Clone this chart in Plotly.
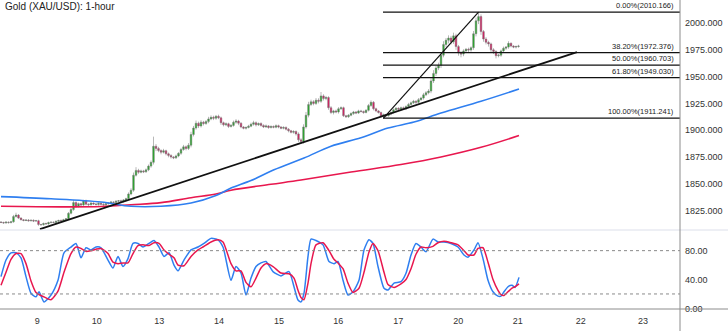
import plotly.graph_objects as go

# ---------------- data ----------------
title_text = "Gold (XAU/USD): 1-hour"
day_labels = ["9", "10", "13", "14", "15", "16", "17", "20", "21", "22", "23"]
day_ticks = [14.5, 38.3, 63.3, 87.2, 111.2, 134.9, 158.9, 182.9, 206.7, 231.9, 256.8]

first_open = 1814.3
closes = [
    1814.0, 1813.5, 1814.2, 1813.8, 1814.5,
    1819.5, 1820.8, 1818.0,
    1816.5, 1815.8, 1816.2, 1815.5, 1816.0, 1815.2, 1815.6,
    1812.0, 1811.8,
    1813.0, 1812.6, 1813.8, 1814.2, 1813.9, 1815.0, 1815.8, 1815.2, 1816.5, 1817.4,
    1822.5, 1826.0,
    1832.5, 1829.0, 1831.5, 1830.2, 1834.0, 1831.0,
    1830.5, 1832.0, 1831.2, 1830.6, 1831.8, 1831.0, 1830.4, 1831.5, 1832.2,
    1833.0, 1832.6, 1833.8, 1834.2, 1833.6, 1835.0, 1836.0,
    1840.5, 1844.0,
    1858.0, 1862.5,
    1860.8, 1862.0, 1861.2, 1863.0,
    1866.5, 1870.0,
    1885.0, 1883.0,
    1881.0, 1879.5, 1880.8, 1878.0,
    1876.5, 1875.0, 1874.2, 1876.0, 1878.5,
    1882.0, 1884.5, 1883.0, 1886.0,
    1896.0, 1902.0, 1906.5,
    1904.0, 1907.5, 1906.2, 1908.0,
    1910.5, 1912.0, 1911.2, 1913.0, 1911.5,
    1907.0, 1905.0, 1906.0, 1903.5, 1904.5,
    1907.5, 1908.5, 1906.5,
    1903.0, 1901.8, 1902.5, 1903.8,
    1905.5, 1907.0, 1905.0, 1906.2, 1904.5,
    1903.0, 1904.0, 1902.5, 1903.5, 1902.8, 1904.2, 1903.0, 1901.8, 1902.6, 1901.0,
    1899.5, 1898.0, 1898.8, 1896.5,
    1891.0, 1889.5,
    1903.0, 1914.0,
    1924.0, 1926.5, 1925.0, 1928.0, 1927.0,
    1932.0, 1929.5, 1930.5,
    1921.0, 1916.5, 1918.0, 1917.0,
    1920.0, 1921.0,
    1913.5, 1912.5, 1914.0,
    1915.5, 1917.0, 1916.0, 1918.0, 1917.5, 1916.5, 1918.5,
    1923.0, 1926.0,
    1920.0, 1918.0, 1916.5,
    1913.0, 1914.5, 1913.5, 1915.0, 1916.5,
    1919.0, 1920.5, 1919.5, 1921.0, 1920.0, 1922.0,
    1924.0, 1925.5, 1927.0, 1926.0, 1928.5, 1930.0,
    1933.0, 1935.0, 1936.5,
    1946.0, 1953.0,
    1958.0, 1960.5,
    1970.0,
    1980.0, 1984.0,
    1986.0, 1982.5, 1988.0,
    1978.0, 1972.0, 1971.0,
    1974.0, 1975.5, 1974.8, 1977.0,
    1990.0,
    2002.0, 2006.0,
    1992.0,
    1985.0, 1982.0, 1980.5,
    1975.0, 1973.5,
    1969.5, 1970.0,
    1974.0, 1976.5, 1977.5,
    1981.0,
    1978.5, 1977.5, 1978.0, 1978.5,
]

up_wick = [
    0.8, 0.6, 1.0, 0.7, 0.9, 1.5, 2.2, 1.0, 0.8, 0.6,
    0.7, 0.9, 0.6, 0.8, 0.7, 0.9, 0.6, 0.8, 0.7, 0.9,
    0.6, 0.8, 1.0, 0.7, 0.9, 0.8, 0.6, 1.2, 1.5, 2.5,
    1.2, 1.0, 0.8, 1.0, 1.2, 0.8, 1.0, 0.7, 0.9, 0.8,
    0.7, 0.9, 0.8, 0.7, 1.0, 0.8, 0.9, 0.7, 1.0, 0.8,
    1.0, 1.5, 1.8, 2.5, 3.0, 1.5, 1.2, 1.0, 1.3, 1.5,
    1.8, 9.0, 2.0, 1.5, 1.2, 1.8, 1.0, 1.2, 1.0, 0.8,
    1.2, 1.0, 1.5, 1.8, 1.2, 2.0, 2.5, 2.0, 2.5, 1.5,
    1.8, 1.2, 1.5, 2.0, 1.8, 1.5, 1.2, 1.5, 1.2, 1.0,
    1.3, 1.0, 1.2, 1.5, 1.8, 1.2, 1.0, 0.8, 1.0, 1.2,
    1.5, 1.8, 1.2, 1.0, 1.2, 1.0, 1.3, 0.8, 1.0, 0.9,
    1.2, 1.0, 0.8, 1.0, 0.9, 1.0, 0.8, 1.2, 1.0, 1.5,
    1.5, 2.5, 3.0, 2.5, 2.0, 1.5, 2.0, 1.8, 3.6, 1.5,
    1.5, 1.2, 1.5, 1.0, 1.2, 1.5, 1.2, 1.0, 0.8, 1.0,
    1.2, 1.0, 0.9, 1.1, 1.0, 0.8, 1.2, 1.5, 1.8, 1.2,
    1.0, 0.8, 0.9, 1.0, 0.8, 1.0, 1.0, 1.2, 1.0, 0.9,
    1.0, 1.1, 1.2, 1.5, 1.2, 1.3, 1.0, 1.5, 1.2, 1.8,
    1.5, 1.8, 2.5, 3.0, 2.0, 2.5, 2.5, 3.0, 2.0, 2.5,
    2.0, 3.0, 2.0, 1.5, 1.8, 1.5, 1.2, 1.5, 1.2, 2.5,
    3.0, 4.166, 2.0, 1.5, 1.8, 1.5, 1.2, 1.5, 1.0, 1.2,
    1.2, 1.5, 1.0, 2.0, 1.0, 0.8, 1.0, 1.2,
]

dn_wick = [
    0.7, 0.8, 0.6, 0.9, 0.7, 0.8, 1.0, 0.9, 0.7, 0.8,
    0.6, 0.8, 0.7, 0.9, 0.6, 1.2, 0.8, 0.7, 0.6, 0.8,
    0.7, 0.6, 0.8, 0.7, 0.9, 0.6, 0.8, 0.7, 1.0, 1.2,
    1.5, 1.0, 1.2, 0.8, 1.0, 1.2, 0.8, 1.0, 0.7, 0.9,
    0.8, 1.0, 0.7, 0.9, 0.8, 1.0, 0.7, 0.9, 0.8, 1.0,
    0.8, 1.0, 1.2, 1.5, 1.2, 1.5, 1.0, 1.2, 1.0, 1.2,
    1.5, 2.0, 2.5, 1.5, 2.0, 1.2, 1.5, 1.8, 1.5, 1.2,
    1.0, 1.2, 1.5, 1.2, 1.8, 1.5, 2.0, 1.8, 1.5, 2.0,
    1.5, 1.8, 1.2, 1.5, 1.2, 1.8, 1.5, 1.2, 2.0, 1.5,
    1.2, 1.5, 1.0, 1.2, 1.5, 1.8, 1.2, 1.0, 1.2, 0.8,
    1.0, 1.2, 1.5, 1.0, 1.2, 1.0, 0.8, 1.2, 0.9, 1.0,
    1.0, 1.2, 0.9, 1.0, 1.2, 1.5, 1.0, 1.2, 1.5, 2.0,
    2.0, 2.0, 1.5, 2.0, 1.5, 1.8, 1.5, 2.0, 1.5, 1.8,
    1.5, 2.0, 1.5, 1.8, 1.2, 1.5, 1.0, 1.2, 0.8, 1.0,
    1.0, 1.2, 1.0, 0.8, 1.0, 1.2, 0.8, 1.0, 1.2, 1.5,
    1.2, 1.0, 1.0, 1.759, 1.0, 0.8, 1.0, 0.9, 1.0, 1.2,
    0.8, 1.0, 1.2, 1.0, 1.2, 1.0, 1.5, 1.2, 1.0, 1.5,
    1.2, 1.5, 2.0, 2.0, 2.5, 2.0, 2.5, 2.0, 2.5, 3.0,
    2.5, 2.0, 3.0, 2.5, 3.0, 2.0, 1.5, 2.0, 1.5, 2.0,
    2.5, 3.0, 3.0, 2.5, 2.0, 2.5, 2.0, 2.5, 2.5, 1.5,
    1.5, 1.2, 1.5, 1.5, 1.2, 1.0, 1.2, 1.0,
]

# moving averages (sampled at bar positions)
ma_fast_bar = [0, 20, 40, 52, 64, 76, 86, 92, 100, 109.2, 121.2, 132, 144, 154.8, 165.2, 176, 192, 207.2]
ma_fast_val = [1838, 1836, 1833, 1829, 1829, 1832, 1839, 1846, 1853, 1863, 1874, 1885, 1893, 1902,
               1907.6, 1916, 1927, 1938.4]
ma_slow_bar = [0, 24, 40, 52, 64, 76, 86, 92, 108, 120, 140, 160, 176, 192, 207.2]
ma_slow_val = [1829, 1828.5, 1828.8, 1830.5, 1832.4, 1837, 1840.5, 1844, 1849.5, 1853.5, 1861, 1868,
               1875, 1884, 1895]

# trend line and fibonacci retracement
trend_bar = [15.6, 230.4]
trend_val = [1807.8, 1972.9]
fib_low_bar, fib_high_bar = 153, 191
fib_pct = ["0.00%", "38.20%", "50.00%", "61.80%", "100.00%"]
fib_price = [2010.166, 1972.376, 1960.703, 1949.030, 1911.241]

# stochastic oscillator
stoch_bar = [0, 2, 4, 6, 8, 10, 12, 14, 15.2, 17.2, 20, 22.8, 25.2, 28, 30, 32, 34, 36, 38, 40,
             42.8, 44.8, 46.8, 48.8, 50.8, 52.8, 54.8, 56.8, 59.2, 61.2, 63.2, 65.2, 67.2, 69.2, 70.8,
             73.2, 76, 78.8, 81.2, 84, 86.8, 88.8, 92, 94, 96, 98, 100, 102, 104, 106, 108.8, 112,
             115.2, 117.2, 118.8, 120, 121.2, 122.8, 124, 126, 128.8, 131.2, 133.2, 134.8, 136.8,
             138.8, 140.8, 143.2, 145.2, 147.2, 148.8, 150.8, 153.2, 154.8, 157.2, 160, 162, 164,
             166, 168, 170, 172.8, 174.8, 177.2, 180, 182.8, 185.2, 186.8, 189.2, 190.8, 192.8,
             194.8, 196.8, 198.8, 200, 201.2, 202.8, 204.4, 205.6, 207.2]
stoch_k = [44, 67, 77, 77, 70, 44, 21, 16, 23, 9, 18.5, 39, 77, 85, 90, 70, 84, 81, 85, 84,
           67, 56, 72, 58, 69, 90, 90, 85, 90, 94, 85, 72, 77, 60, 52, 67, 81, 85, 90, 97,
           95, 85, 39, 58, 49, 18.5, 42, 58, 63, 65, 51, 45, 51, 30, 11.6, 9, 21, 72, 96, 94,
           88, 65, 62, 65, 39, 18.5, 23, 39, 81, 95, 90, 58, 28, 25.5, 35, 37, 48.6, 74, 90, 85,
           78.5, 96, 92, 92, 90, 85, 74, 71, 81, 91, 69, 39, 23, 17, 17, 23, 30, 32, 29, 43]
stoch_d = [32, 50, 68, 76, 76, 62, 38, 22, 19, 16, 12, 24, 50, 76, 85, 83, 79, 80, 82, 83,
           76, 64, 62, 63, 63, 76, 87, 88, 87, 91, 90, 81, 75, 70, 60, 59, 72, 81, 86, 92,
           95, 92, 62, 52, 52, 36, 30, 42, 56, 62, 58, 49, 48, 42, 25, 15, 12, 35, 62, 88,
           91, 80, 68, 63, 55, 35, 22, 28, 50, 78, 90, 80, 50, 33, 29, 34, 40, 55, 75, 85,
           84, 86, 91, 93, 91, 88, 80, 74, 74, 83, 84, 64, 40, 25, 19, 18, 23, 28, 30, 34]
stoch_levels = [80, 20]

# ---------------- derived ----------------
bars = list(range(len(closes)))
opens = [first_open] + closes[:-1]
highs = [max(o, c) + w for o, c, w in zip(opens, closes, up_wick)]
lows = [min(o, c) - w for o, c, w in zip(opens, closes, dn_wick)]

W, H = 728, 331
PL, PR, PB = 0, 48, 22
plot_w, plot_h = W - PL - PR, H - PB
main_bottom_px = 230
split = (plot_h - main_bottom_px) / plot_h
x_range = [-0.4, 271.6]

FONT = "Liberation Sans"
UP_FILL, DN_FILL, WICK = "#1fae22", "#e0145f", "#707070"
BLUE, RED = "#2f7ff0", "#e8174e"

fig = go.Figure()

fig.add_trace(go.Candlestick(
    x=bars, open=opens, high=highs, low=lows, close=closes,
    increasing=dict(fillcolor=UP_FILL, line=dict(color=WICK, width=0.5)),
    decreasing=dict(fillcolor=DN_FILL, line=dict(color=WICK, width=0.5)),
    whiskerwidth=0, hoverinfo="skip", xaxis="x", yaxis="y", showlegend=False,
))

fig.add_trace(go.Scatter(x=ma_slow_bar, y=ma_slow_val, mode="lines",
                         line=dict(color=RED, width=1.6, shape="spline", smoothing=1.0),
                         hoverinfo="skip", xaxis="x", yaxis="y"))
fig.add_trace(go.Scatter(x=ma_fast_bar, y=ma_fast_val, mode="lines",
                         line=dict(color=BLUE, width=1.6, shape="spline", smoothing=1.0),
                         hoverinfo="skip", xaxis="x", yaxis="y"))
fig.add_trace(go.Scatter(x=trend_bar, y=trend_val, mode="lines",
                         line=dict(color="#111111", width=1.8),
                         hoverinfo="skip", xaxis="x", yaxis="y"))
fig.add_trace(go.Scatter(x=[fib_low_bar, fib_high_bar], y=[fib_price[-1], fib_price[0]], mode="lines",
                         line=dict(color="#111111", width=1.2),
                         hoverinfo="skip", xaxis="x", yaxis="y"))

for pct, price in zip(fib_pct, fib_price):
    fig.add_shape(type="line", xref="x", yref="y", x0=fib_low_bar - 0.2, x1=x_range[1],
                  y0=price, y1=price, line=dict(color="#111111", width=1.4))
    fig.add_annotation(xref="paper", yref="y", x=676 / plot_w, y=price, xanchor="right",
                       yanchor="bottom", yshift=0, showarrow=False,
                       text=f"{pct}({price:.3f})",
                       font=dict(family=FONT, size=7.5, color="#222222"))

# stochastic
for lvl in stoch_levels:
    fig.add_shape(type="line", xref="paper", yref="y2", x0=0, x1=1, y0=lvl, y1=lvl,
                  line=dict(color="#8a8a8a", width=1, dash="dot"))
fig.add_trace(go.Scatter(x=stoch_bar, y=stoch_k, mode="lines",
                         line=dict(color=BLUE, width=1.5, shape="spline", smoothing=0.6),
                         hoverinfo="skip", xaxis="x2", yaxis="y2"))
fig.add_trace(go.Scatter(x=stoch_bar, y=stoch_d, mode="lines",
                         line=dict(color=RED, width=1.5, shape="spline", smoothing=0.6),
                         hoverinfo="skip", xaxis="x2", yaxis="y2"))

# frame lines
ext = W / plot_w
fig.add_shape(type="line", xref="paper", yref="paper", x0=0, x1=ext, y0=split, y1=split,
              line=dict(color="#dcdfea", width=1), layer="above")
fig.add_shape(type="line", xref="paper", yref="paper", x0=0, x1=ext, y0=0, y1=0,
              line=dict(color="#8c8c8c", width=1), layer="above")
fig.add_shape(type="line", xref="paper", yref="paper", x0=1, x1=1, y0=-PB / plot_h, y1=1,
              line=dict(color="#8c8c8c", width=1), layer="above")

fig.add_annotation(xref="paper", yref="paper", x=3 / plot_w, y=1 - 7 / plot_h, xanchor="left",
                   yanchor="middle", showarrow=False, text=title_text,
                   font=dict(family=FONT, size=10, color="#222222"))

price_ticks = [1825, 1850, 1875, 1900, 1925, 1950, 1975, 2000]
stoch_ticks = [0, 40, 80]

fig.update_layout(
    width=W, height=H, margin=dict(l=PL, r=PR, t=0, b=PB, pad=0),
    paper_bgcolor="white", plot_bgcolor="white", showlegend=False, boxgap=0.1,
    font=dict(family=FONT, size=9, color="#333333"),
    xaxis=dict(domain=[0, 1], range=x_range, anchor="y", showticklabels=False, showgrid=False,
               zeroline=False, rangeslider=dict(visible=False), matches="x2", fixedrange=True),
    xaxis2=dict(domain=[0, 1], range=x_range, anchor="y2", showgrid=False, zeroline=False,
                tickmode="array", tickvals=day_ticks, ticktext=day_labels, ticks="",
                tickfont=dict(family=FONT, size=9, color="#333333"), ticklabelstandoff=5),
    yaxis=dict(domain=[split, 1], range=[1806.9, 2021.46], side="right", anchor="x",
               showgrid=False, zeroline=False, tickmode="array", tickvals=price_ticks,
               ticktext=[f"{v:.3f}" for v in price_ticks], ticks="", ticklabelstandoff=4,
               tickfont=dict(family=FONT, size=9, color="#333333")),
    yaxis2=dict(domain=[0, split], range=[-0.83, 108.6], side="right", anchor="x2",
                showgrid=False, zeroline=False, tickmode="array", tickvals=stoch_ticks,
                ticktext=[f"{v:.2f}" for v in stoch_ticks], ticks="", ticklabelstandoff=4,
                tickfont=dict(family=FONT, size=9, color="#333333")),
)

fig.write_html("out.html", config={"displayModeBar": False, "staticPlot": True})
